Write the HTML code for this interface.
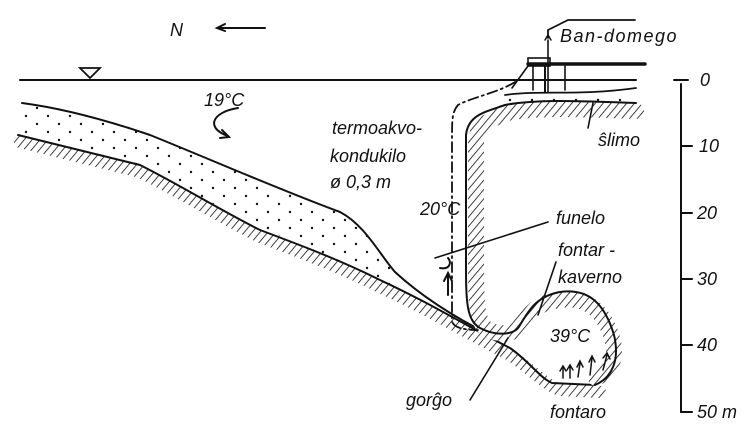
<!DOCTYPE html>
<html><head><meta charset="utf-8"><style>
html,body{margin:0;padding:0;background:#fff;}
svg{display:block}
text{font-family:"Liberation Sans",sans-serif;font-style:italic;fill:#111;font-size:18px;}
</style></head><body>
<svg width="753" height="444" viewBox="0 0 753 444" xmlns="http://www.w3.org/2000/svg">
<defs>
<pattern id="h" width="6" height="6" patternUnits="userSpaceOnUse" patternTransform="rotate(40)">
<rect width="6" height="6" fill="#fff"/><line x1="0" y1="0" x2="0" y2="6" stroke="#111" stroke-width="1.6"/>
</pattern>
<pattern id="d" width="22" height="16" patternUnits="userSpaceOnUse">
<circle cx="4" cy="4" r="1.2" fill="#111"/><circle cx="15" cy="12" r="1.2" fill="#111"/>
</pattern>
</defs>
<g fill="none" stroke="#111" stroke-width="2" stroke-linecap="round">
<line x1="20" y1="80" x2="636" y2="80"/>
<path d="M80,68 L100,68 L90,78 Z" stroke-width="1.8"/>
<line x1="218" y1="28" x2="265" y2="28"/><path d="M225,24 L217,28 L225,31"/>
<path d="M238,108 C212,112 205,128 228,136"/><path d="M222,130 L229,137 L220,138"/>
<path d="M22,103 C60,108 100,118 150,135 C200,155 280,190 340,212 C365,225 380,255 395,272 C420,295 450,315 490,335 C520,350 540,370 548,382 L470,330 C430,305 400,290 380,280 C300,245 220,210 180,185 C140,165 60,145 18,135 Z" fill="url(#d)" stroke="none"/>
<path d="M22,103 C60,108 100,118 150,135 C200,155 280,190 340,212 C365,225 380,255 395,272 C420,295 450,315 490,335"/>
<path d="M20,142 C60,152 100,162 140,172 C180,192 220,217 260,237 C300,252 340,267 380,287 C430,310 470,335 510,355 C530,368 545,385 560,390 L600,392" stroke="url(#h)" stroke-width="12"/>
<path d="M18,135 C60,145 100,155 140,165 C180,185 220,210 260,230 C300,245 340,260 380,280 C430,303 470,328 510,348 C530,362 540,378 552,383 L595,385"/>
<path d="M636,111 C600,110 540,106 507,113 C490,120 478,124 476,140 L476,260 C476,300 476,322 487,329 C500,336 516,334 520,326 C532,310 540,302 560,300 C588,296 604,312 612,338 C618,360 610,372 596,378" stroke="url(#h)" stroke-width="16"/>
<path d="M636,103 C600,102 540,98 505,105 C485,112 468,115 466,135 L466,260 C466,300 466,320 480,328 C495,336 515,336 520,325 C530,308 538,296 560,292 C590,288 605,305 614,335 C620,360 612,378 595,385"/>
<path d="M505,95 C540,90 580,96 636,88" stroke-width="1.8"/>
<path d="M505,98 L636,98 L636,103 L505,105 Z" fill="url(#d)" stroke="none"/>
<path d="M515,82 C500,92 470,98 458,105 C452,112 452,120 452,140 L452,320 C452,328 465,330 478,330" stroke-width="1.8" stroke-dasharray="10,4,2,4"/>
<path d="M448,295 L448,275"/><path d="M444,281 L448,273 L452,281"/>
<path d="M440,268 C450,270 452,262 448,258"/>
<g stroke-width="1.5"><path d="M563,378 L563,368 M560,371 L563,366 L566,371"/><path d="M570,378 L570,367 M567,370 L570,365 L573,370"/><path d="M578,377 L580,363 M577,367 L580,361 L583,367"/><path d="M590,375 L592,358 M589,362 L592,356 L595,362"/><path d="M603,370 L607,355 M603,358 L607,353 L610,359"/></g>
<line x1="435" y1="258" x2="548" y2="222" stroke-width="1.6"/>
<line x1="538" y1="315" x2="556" y2="262" stroke-width="1.6"/>
<line x1="470" y1="400" x2="508" y2="338" stroke-width="1.6"/>
<line x1="593" y1="103" x2="588" y2="128" stroke-width="1.6"/>
<path d="M548,38 L548,30 L568,20 L635,20" stroke-width="1.8"/>
<path d="M545,40 L548,35 L551,40" stroke-width="1.5"/>
<line x1="548" y1="40" x2="548" y2="92" stroke-width="1.6"/>
<rect x="528" y="58" width="22" height="8" stroke-width="1.6"/>
<line x1="528" y1="64" x2="645" y2="64" stroke-width="3.5"/>
<line x1="533" y1="66" x2="533" y2="90" stroke-width="1.6"/><line x1="545" y1="66" x2="545" y2="92"/>
<line x1="565" y1="66" x2="565" y2="90" stroke-width="1.6"/>
<path d="M528,66 L512,88" stroke-width="1.6"/>
<line x1="681" y1="84" x2="681" y2="412"/>
<line x1="674" y1="80" x2="688" y2="80"/>
<line x1="681" y1="146" x2="692" y2="146"/><line x1="681" y1="213" x2="692" y2="213"/>
<line x1="681" y1="279" x2="692" y2="279"/><line x1="681" y1="345" x2="692" y2="345"/>
<line x1="681" y1="412" x2="692" y2="412"/>
</g>
<text x="170" y="36">N</text>
<text x="204" y="106">19°C</text>
<text x="332" y="134">termoakvo-</text>
<text x="330" y="162">kondukilo</text>
<text x="330" y="188">ø 0,3 m</text>
<text x="420" y="215" font-size="13">20°C</text>
<text x="556" y="224">funelo</text>
<text x="558" y="256">fontar -</text>
<text x="558" y="283">kaverno</text>
<text x="550" y="342">39°C</text>
<text x="406" y="406">gorĝo</text>
<text x="550" y="418">fontaro</text>
<text x="598" y="146">ŝlimo</text>
<text x="560" y="42" font-size="22" letter-spacing="1.5">Ban-domego</text>
<text x="700" y="86">0</text>
<text x="699" y="152">10</text>
<text x="697" y="219">20</text>
<text x="697" y="285">30</text>
<text x="697" y="351">40</text>
<text x="697" y="418">50 m</text>
</svg>
</body></html>
